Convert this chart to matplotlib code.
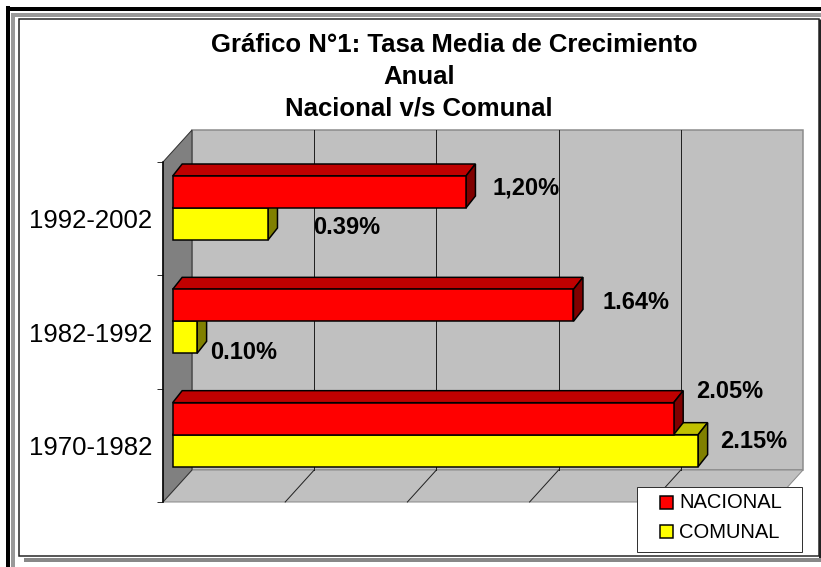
import matplotlib
matplotlib.use("Agg")
import matplotlib.pyplot as plt
from matplotlib.patches import Polygon, Rectangle

# ---- data ----
periods = ["1970-1982", "1982-1992", "1992-2002"]
nacional = [2.05, 1.64, 1.20]
comunal = [2.15, 0.10, 0.39]
nacional_labels = ["2.05%", "1.64%", "1,20%"]
comunal_labels = ["2.15%", "0.10%", "0.39%"]
series_names = ["NACIONAL", "COMUNAL"]
title_lines = ["Gráfico N°1: Tasa Media de Crecimiento", "Anual", "Nacional v/s Comunal"]
x_max = 2.5
grid_step = 0.5

# ---- figure / pixel helpers ----
W, H = 821, 567
fig = plt.figure(figsize=(W / 100, H / 100), dpi=100)

def lw(px):
    return px * 0.72

def pixel_axes():
    a = fig.add_axes([0, 0, 1, 1])
    a.set_xlim(0, W)
    a.set_ylim(H, 0)
    a.axis("off")
    a.patch.set_visible(False)
    return a

# background frame (page border look), drawn in pixel coords
bg = pixel_axes()
bg.plot([8, 8], [6, H], color="black", lw=lw(4), solid_capstyle="butt")
bg.plot([6, W], [8.5, 8.5], color="black", lw=lw(4), solid_capstyle="butt")
bg.plot([13, 13], [13, H], color="#999999", lw=lw(4), solid_capstyle="butt")
bg.plot([11, W], [15, 15], color="#999999", lw=lw(4), solid_capstyle="butt")
bg.add_patch(Rectangle((19, 19), 800, 537, facecolor="white", edgecolor="#222222", lw=lw(1.5)))
bg.plot([819.5, 819.5], [19, 558], color="#222222", lw=lw(3), solid_capstyle="butt")
bg.plot([24, W], [560, 560], color="#888888", lw=lw(4), solid_capstyle="butt")

# ---- chart axes: data coordinates map onto the front plane of the floor ----
left_px, right_px, top_px, bot_px = 163, 774, 162, 502
ax = fig.add_axes([left_px / W, (H - bot_px) / H, (right_px - left_px) / W, (bot_px - top_px) / H])
ax.set_xlim(0, x_max)
ax.set_ylim(-0.5, len(periods) - 0.5)
ax.patch.set_visible(False)
sx = (right_px - left_px) / x_max            # px per % unit
sy = (bot_px - top_px) / len(periods)        # px per category unit

# depth offsets (converted from pixels to data units)
DX, DY = 29 / sx, 32 / sy                    # full floor depth
FX, FY = DX / 3, DY / 3                      # bar front plane
BDX, BDY = 9.5 / sx, 12 / sy                 # bar thickness
y0, y1 = -0.5, len(periods) - 0.5

# back wall
ax.add_patch(Polygon([(DX, y0 + DY), (x_max + DX, y0 + DY), (x_max + DX, y1 + DY), (DX, y1 + DY)],
                     closed=True, facecolor="#C0C0C0", edgecolor="#8a8a8a", lw=lw(1.5), zorder=1, clip_on=False))
# floor
ax.add_patch(Polygon([(0, y0), (x_max, y0), (x_max + DX, y0 + DY), (DX, y0 + DY)],
                     closed=True, facecolor="#C0C0C0", edgecolor="#8a8a8a", lw=lw(1), zorder=1, clip_on=False))
# left side wall
ax.add_patch(Polygon([(0, y0), (DX, y0 + DY), (DX, y1 + DY), (0, y1)],
                     closed=True, facecolor="#808080", edgecolor="#303030", lw=lw(1), zorder=1.5, clip_on=False))

# gridlines on back wall and floor
g = grid_step
while g < x_max - 1e-9:
    ax.plot([g + DX, g + DX], [y0 + DY, y1 + DY], color="#222222", lw=lw(1), zorder=2, clip_on=False)
    ax.plot([g, g + DX], [y0, y0 + DY], color="#222222", lw=lw(1), zorder=2, clip_on=False)
    g += grid_step

# ---- 3D bars ----
bh = 32 / sy
styles = {
    "nacional": ("#FF0000", "#C00000", "#800000"),
    "comunal": ("#FFFF00", "#C0C000", "#808000"),
}

def bar3d(yb, v, key, z):
    front, top, side = styles[key]
    yt = yb + bh
    ax.add_patch(Polygon([(FX, yt), (FX + v, yt), (FX + v + BDX, yt + BDY), (FX + BDX, yt + BDY)],
                         closed=True, facecolor=top, edgecolor="black", lw=lw(1.5), zorder=z, clip_on=False))
    ax.add_patch(Polygon([(FX + v, yb), (FX + v, yt), (FX + v + BDX, yt + BDY), (FX + v + BDX, yb + BDY)],
                         closed=True, facecolor=side, edgecolor="black", lw=lw(1.5), zorder=z, clip_on=False))
    ax.barh([yb + bh / 2], [v], left=FX, height=bh, color=front, edgecolor="black",
            lw=lw(1.5), zorder=z + 0.1, clip_on=False)

for i in range(len(periods)):
    base = i + FY
    bar3d(base - bh, comunal[i], "comunal", 3 + i)
    bar3d(base, nacional[i], "nacional", 3.5 + i)

# data labels: offsets in pixels from the bar end (right, up)
nac_off = [(22, 27), (29.5, 3), (27, 4.5)]
com_off = [(22, 9), (13, -15), (45, -3.5)]
label_font = dict(fontsize=17, fontweight="bold", family="Liberation Sans")
for i in range(len(periods)):
    base = i + FY
    ax.annotate(nacional_labels[i], (FX + nacional[i], base + bh / 2),
                xytext=(lw(nac_off[i][0]), lw(nac_off[i][1])), textcoords="offset points",
                ha="left", va="center", zorder=10, annotation_clip=False, **label_font)
    ax.annotate(comunal_labels[i], (FX + comunal[i], base - bh / 2),
                xytext=(lw(com_off[i][0]), lw(com_off[i][1])), textcoords="offset points",
                ha="left", va="center", zorder=10, annotation_clip=False, **label_font)

# axis: left edge, category labels and tick marks
for s in ["top", "right", "bottom"]:
    ax.spines[s].set_visible(False)
ax.spines["left"].set_color("black")
ax.spines["left"].set_linewidth(lw(1.5))
ax.spines["left"].set_zorder(2.5)
ax.set_xticks([])
ax.set_yticks(range(len(periods)))
ax.set_yticklabels(periods, fontsize=18.5, family="Liberation Sans")
ax.set_yticks([y0 + k for k in range(len(periods) + 1)], minor=True)
ax.tick_params(axis="y", which="major", length=0, pad=lw(11))
ax.tick_params(axis="y", which="minor", length=lw(6), width=lw(1), color="#333333")

# title
title_font = dict(fontsize=18.5, fontweight="bold", family="Liberation Sans")
fig.text(454 / W, 1 - 45 / H, title_lines[0], ha="center", va="center", **title_font)
fig.text(419 / W, 1 - 77 / H, title_lines[1], ha="center", va="center", **title_font)
fig.text(419 / W, 1 - 108 / H, title_lines[2], ha="center", va="center", **title_font)

# legend box (drawn by hand on top of the chart to match the Excel layout)
lg = pixel_axes()
lg.add_patch(Rectangle((637, 487), 165, 65, facecolor="white", edgecolor="#333333", lw=lw(1)))
legend_colors = [styles["nacional"][0], styles["comunal"][0]]
for k, name in enumerate(series_names):
    yc = 502 + 29 * k
    lg.add_patch(Rectangle((660, yc - 6.5), 13, 13, facecolor=legend_colors[k], edgecolor="black",
                           lw=lw(1.5)))
    lg.text(679, yc + 1, name, ha="left", va="center", fontsize=14.5, family="Liberation Sans")

fig.savefig("out.png", dpi=100)
